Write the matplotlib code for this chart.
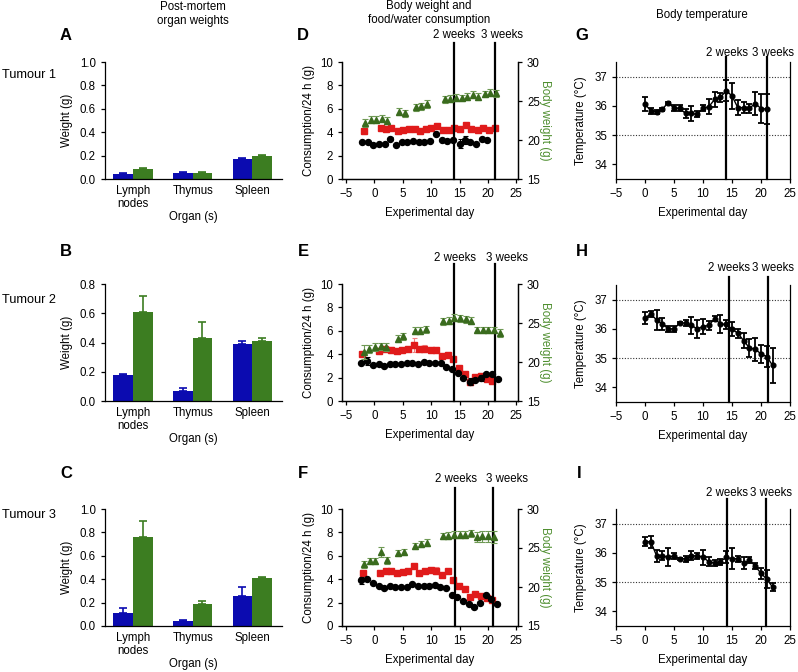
import matplotlib
matplotlib.use("Agg")
import matplotlib.pyplot as plt
import numpy as np

plt.rcParams['font.family'] = ['Liberation Sans', 'DejaVu Sans']
plt.rcParams['font.size'] = 8.3
plt.rcParams['axes.linewidth'] = 0.9
plt.rcParams['xtick.major.width'] = 0.9
plt.rcParams['ytick.major.width'] = 0.9
plt.rcParams['xtick.major.size'] = 3
plt.rcParams['ytick.major.size'] = 3
plt.rcParams['xtick.labelsize'] = 8.3
plt.rcParams['ytick.labelsize'] = 8.3

# ---------------- data ----------------
organs = ["Lymph\nnodes", "Thymus", "Spleen"]

a_blue = [0.045, 0.05, 0.175]
a_blue_err = [0.005, 0.008, 0.004]
a_green = [0.085, 0.052, 0.195]
a_green_err = [0.008, 0.005, 0.01]

b_blue = [0.18, 0.068, 0.39]
b_blue_err = [0.005, 0.02, 0.02]
b_green = [0.61, 0.43, 0.41]
b_green_err = [0.11, 0.11, 0.02]

c_blue = [0.11, 0.04, 0.26]
c_blue_err = [0.04, 0.01, 0.07]
c_green = [0.76, 0.19, 0.41]
c_green_err = [0.135, 0.025, 0.005]

# Panel D
d_food_x = [-2.2, -1.2, -0.2, 0.8, 1.8, 2.8, 3.8, 4.8, 5.8, 6.8, 7.8, 8.8, 9.8, 10.9, 11.9, 12.8, 13.9, 15.0, 16.0, 16.9, 17.9, 18.9, 19.9]
d_food = [3.12, 3.12, 2.87, 3.0, 2.95, 3.45, 2.87, 3.15, 3.15, 3.29, 3.15, 3.2, 3.26, 3.88, 3.31, 3.26, 3.34, 3.03, 3.31, 3.12, 3.0, 3.4, 3.37]
d_food_err = [0.05, 0.05, 0.05, 0.05, 0.05, 0.15, 0.05, 0.05, 0.05, 0.05, 0.05, 0.05, 0.05, 0.08, 0.05, 0.05, 0.08, 0.35, 0.35, 0.05, 0.05, 0.05, 0.05]
d_water_x = [-1.9, 1.1, 2.0, 3.0, 4.1, 5.0, 6.1, 7.1, 8.1, 9.1, 10.0, 11.1, 12.1, 13.1, 14.1, 15.1, 16.1, 17.1, 18.2, 19.2, 20.2, 21.2]
d_water = [4.07, 4.38, 4.24, 4.35, 4.07, 4.21, 4.3, 4.3, 4.13, 4.3, 4.33, 4.52, 4.16, 4.16, 4.38, 4.27, 4.58, 4.24, 4.21, 4.38, 4.16, 4.38]
d_water_err = [0.05] * 22
d_bw_x = [-1.6, -0.6, 0.3, 1.3, 2.3, 4.3, 5.4, 7.4, 8.3, 9.3, 12.4, 13.4, 14.4, 15.4, 16.3, 17.4, 18.3, 19.4, 20.4, 21.4]
d_bw = [22.2, 22.6, 22.6, 22.7, 22.5, 23.6, 23.4, 24.2, 24.3, 24.6, 25.2, 25.3, 25.4, 25.4, 25.55, 25.8, 25.55, 25.9, 26.05, 26.0]
d_bw_err = [0.5, 0.45, 0.45, 0.45, 0.45, 0.45, 0.4, 0.45, 0.45, 0.5, 0.4, 0.45, 0.45, 0.4, 0.45, 0.45, 0.45, 0.4, 0.45, 0.45]

# Panel E
e_food_x = [-2.35, -1.3, -0.3, 0.75, 1.75, 2.7, 3.7, 4.7, 5.7, 6.7, 7.7, 8.7, 9.7, 10.7, 11.7, 12.7, 13.7, 14.7, 15.7, 16.8, 17.7, 18.7, 19.7, 20.7, 21.7]
e_food = [3.23, 3.4, 3.06, 3.14, 3.0, 3.17, 3.17, 3.17, 3.29, 3.23, 3.12, 3.31, 3.29, 3.26, 3.26, 2.89, 2.72, 2.41, 1.98, 1.64, 1.81, 1.93, 2.35, 2.27, 1.87]
e_food_err = [0.08, 0.35, 0.05, 0.05, 0.05, 0.05, 0.05, 0.05, 0.05, 0.05, 0.05, 0.05, 0.05, 0.05, 0.05, 0.05, 0.08, 0.08, 0.08, 0.3, 0.1, 0.25, 0.08, 0.08, 0.08]
e_water_x = [-2.2, 0.9, 1.9, 2.9, 3.9, 4.9, 5.9, 6.9, 7.8, 8.8, 9.9, 10.9, 11.9, 12.9, 13.9, 14.9, 15.9, 16.8, 17.8, 18.8, 19.8, 20.8]
e_water = [4.05, 4.25, 4.42, 4.33, 4.3, 4.33, 4.48, 4.82, 4.48, 4.48, 4.39, 4.39, 3.88, 3.91, 3.6, 2.86, 2.35, 1.64, 2.01, 2.15, 1.87, 1.7]
e_water_err = [0.1, 0.1, 0.1, 0.25, 0.1, 0.1, 0.1, 0.6, 0.1, 0.3, 0.1, 0.1, 0.1, 0.1, 0.1, 0.1, 0.1, 0.3, 0.15, 0.15, 0.1, 0.1]
e_bw_x = [-1.9, -0.9, 0.2, 1.2, 2.1, 4.1, 5.1, 7.1, 8.1, 9.1, 12.1, 13.1, 14.1, 15.1, 16.1, 17.1, 18.1, 19.1, 20.1, 21.1, 22.1]
e_bw = [21.3, 21.7, 21.9, 22.0, 21.9, 23.0, 23.3, 24.0, 24.0, 24.2, 25.2, 25.3, 25.7, 25.6, 25.5, 25.3, 24.1, 24.1, 24.1, 24.1, 23.7]
e_bw_err = [0.9, 0.5, 0.5, 0.5, 0.5, 0.45, 0.45, 0.45, 0.45, 0.45, 0.45, 0.45, 0.45, 0.45, 0.45, 0.45, 0.4, 0.4, 0.4, 0.4, 0.5]

# Panel F
f_food_x = [-2.3, -1.3, -0.3, 0.75, 1.75, 2.75, 3.7, 4.7, 5.7, 6.7, 7.7, 8.7, 9.7, 10.6, 11.6, 12.6, 13.6, 14.6, 15.6, 16.6, 17.6, 18.6, 19.6, 20.6, 21.6]
f_food = [3.89, 4.03, 3.66, 3.43, 3.26, 3.43, 3.37, 3.34, 3.37, 3.57, 3.46, 3.43, 3.43, 3.51, 3.37, 3.23, 2.66, 2.49, 2.17, 1.86, 1.63, 1.94, 2.63, 2.34, 1.91]
f_food_err = [0.3, 0.1, 0.05, 0.05, 0.08, 0.05, 0.05, 0.05, 0.05, 0.05, 0.05, 0.05, 0.05, 0.05, 0.05, 0.05, 0.05, 0.05, 0.05, 0.05, 0.08, 0.05, 0.05, 0.05, 0.05]
f_water_x = [-2.05, 1.0, 2.0, 3.0, 4.0, 5.0, 6.0, 7.0, 7.9, 8.9, 9.9, 10.9, 11.9, 12.9, 13.9, 14.9, 15.9, 16.8, 17.8, 18.8, 19.8, 20.8]
f_water = [4.51, 4.54, 4.66, 4.66, 4.57, 4.63, 4.74, 5.09, 4.54, 4.71, 4.77, 4.74, 4.4, 4.71, 3.91, 3.43, 3.14, 2.51, 2.71, 2.57, 2.43, 2.2]
f_water_err = [0.1, 0.1, 0.1, 0.1, 0.1, 0.1, 0.1, 0.1, 0.1, 0.1, 0.15, 0.3, 0.1, 0.1, 0.1, 0.1, 0.1, 0.1, 0.1, 0.1, 0.1, 0.1]
f_bw_x = [-1.8, -0.8, 0.2, 1.2, 2.2, 4.2, 5.2, 7.2, 8.2, 9.2, 12.1, 13.0, 14.1, 15.0, 16.0, 17.0, 18.0, 19.0, 20.0, 21.0]
f_bw = [22.9, 23.3, 23.3, 24.5, 23.4, 24.4, 24.5, 25.3, 25.5, 25.7, 26.5, 26.6, 26.7, 26.7, 26.7, 26.9, 26.4, 26.5, 26.5, 26.4]
f_bw_err = [0.4, 0.4, 0.4, 0.6, 0.4, 0.4, 0.4, 0.4, 0.4, 0.4, 0.4, 0.4, 0.45, 0.45, 0.45, 0.45, 0.6, 0.7, 0.7, 0.8]

# Temperature panels
g_days = [0, 1, 2, 3, 4, 5, 6, 7, 8, 9, 10, 11, 12, 13, 14, 15, 16, 17, 18, 19, 20, 21]
g_temp = [36.06, 35.83, 35.79, 35.89, 36.11, 35.92, 35.92, 35.74, 35.74, 35.71, 35.92, 35.97, 36.22, 36.29, 36.52, 36.34, 35.94, 35.94, 35.92, 36.08, 35.91, 35.89]
g_err = [0.25, 0.1, 0.08, 0.05, 0.03, 0.1, 0.1, 0.15, 0.25, 0.1, 0.1, 0.25, 0.25, 0.15, 0.35, 0.45, 0.25, 0.2, 0.15, 0.4, 0.5, 0.5]

h_days = [0, 1, 2, 3, 4, 5, 6, 7, 8, 9, 10, 11, 12, 13, 14, 15, 16, 17, 18, 19, 20, 21, 22]
h_temp = [36.37, 36.52, 36.3, 36.17, 36.0, 36.0, 36.2, 36.2, 36.12, 36.0, 36.08, 36.12, 36.35, 36.17, 36.15, 36.0, 35.85, 35.6, 35.35, 35.3, 35.15, 35.05, 34.75]
h_err = [0.2, 0.1, 0.35, 0.2, 0.1, 0.1, 0.03, 0.1, 0.3, 0.3, 0.25, 0.15, 0.08, 0.3, 0.15, 0.25, 0.15, 0.25, 0.3, 0.4, 0.3, 0.35, 0.6]

i_days = [0, 1, 2, 3, 4, 5, 6, 7, 8, 9, 10, 11, 12, 13, 14, 15, 16, 17, 18, 19, 20, 21, 22]
i_temp = [36.38, 36.38, 35.9, 35.9, 35.85, 35.9, 35.8, 35.8, 35.9, 35.9, 35.85, 35.7, 35.65, 35.7, 35.85, 35.8, 35.8, 35.65, 35.75, 35.55, 35.3, 35.1, 34.83]
i_err = [0.15, 0.2, 0.2, 0.15, 0.3, 0.1, 0.03, 0.1, 0.15, 0.1, 0.25, 0.15, 0.1, 0.1, 0.2, 0.35, 0.1, 0.2, 0.1, 0.1, 0.2, 0.3, 0.15]

week_lines = {"D": (14.1, 21.2), "E": (14.0, 21.3), "F": (14.2, 20.9),
              "G": (14.0, 21.1), "H": (14.5, 21.2), "I": (14.1, 20.9)}

# ---------------- styling ----------------
BLUE = "#0b0bb0"
GREEN_BAR = "#3c7d21"
RED = "#e01b1b"
TRI = "#3a6b1e"
BW_LABEL = "#4f8f30"

W, H = 798, 672
fig = plt.figure(figsize=(W / 100, H / 100), dpi=100)


def add_ax(l, t, r, b):
    return fig.add_axes([l / W, 1 - b / H, (r - l) / W, (b - t) / H])


def fig_text(x, y, s, **kw):
    fig.text(x / W, 1 - y / H, s, **kw)


def bar_panel(top, blue, blue_err, green, green_err, ymax):
    ax = add_ax(105, top, 282, top + 117)
    x = np.arange(len(organs))
    w = 0.33
    ax.bar(x - w / 2, blue, w, color=BLUE, yerr=[[0] * 3, blue_err],
           error_kw=dict(ecolor=BLUE, capsize=3, elinewidth=1.2, capthick=1.2))
    ax.bar(x + w / 2, green, w, color=GREEN_BAR, yerr=[[0] * 3, green_err],
           error_kw=dict(ecolor=GREEN_BAR, capsize=3, elinewidth=1.2, capthick=1.2))
    ax.set_xlim(-0.47, 2.5)
    ax.set_ylim(0, ymax)
    ticks = np.arange(0, ymax + 0.01, 0.2)
    ax.set_yticks(ticks)
    ax.set_yticklabels([f"{v:.1f}" for v in ticks])
    ax.set_xticks(x)
    ax.set_xticklabels(organs, linespacing=1.15)
    ax.tick_params(axis='x', length=0, pad=4)
    ax.spines['top'].set_visible(False)
    ax.spines['right'].set_visible(False)
    ax.set_ylabel("Weight (g)", labelpad=5)
    ax.set_xlabel("Organ (s)", labelpad=1)
    return ax


def week_marks(ax, key, line_top, text_y, txt_x):
    a, b = week_lines[key]
    for d in (a, b):
        ax.axvline(d, ymin=0, ymax=line_top, color='black', lw=1.6, clip_on=False, zorder=5)
    ax.text(txt_x[0], text_y, "2 weeks", transform=ax.get_xaxis_transform(),
            ha='center', va='center', clip_on=False)
    ax.text(txt_x[1], text_y, "3 weeks", transform=ax.get_xaxis_transform(),
            ha='center', va='center', clip_on=False)


def cons_panel(top, key, food_x, food, food_err, water_x, water, water_err,
               bw_x, bw, bw_err, line_top, text_y, txt_x):
    ax = add_ax(342, top, 518, top + 117)
    ax.errorbar(food_x, food, yerr=food_err, fmt='o', color='black', ms=4.3,
                capsize=1.8, elinewidth=0.8, capthick=0.8, zorder=3)
    ax.errorbar(water_x, water, yerr=water_err, fmt='s', color=RED, ms=4.6,
                ecolor="#f08080", capsize=1.8, elinewidth=0.8, capthick=0.8, zorder=2)
    ax.set_xlim(-5.7, 25.3)
    ax.set_ylim(0, 10)
    ax.set_xticks([-5, 0, 5, 10, 15, 20, 25])
    ax.set_xticklabels(["\u22125", "0", "5", "10", "15", "20", "25"])
    ax.set_yticks([0, 2, 4, 6, 8, 10])
    ax.spines['top'].set_visible(False)
    ax.set_ylabel("Consumption/24 h (g)", labelpad=4)
    ax.set_xlabel("Experimental day", labelpad=5)
    ax2 = ax.twinx()
    ax2.errorbar(bw_x, bw, yerr=bw_err, fmt='^', color=TRI, ms=5,
                 ecolor="#6f9a55", capsize=2, elinewidth=0.8, capthick=0.8, zorder=3)
    ax2.set_ylim(15, 30)
    ax2.set_yticks([15, 20, 25, 30])
    ax2.spines['top'].set_visible(False)
    ax2.set_ylabel("Body weight (g)", color=BW_LABEL, rotation=270, labelpad=8)
    week_marks(ax, key, line_top, text_y, txt_x)
    return ax


def temp_panel(top, key, days, temp, err, line_top, text_y, txt_x):
    ax = add_ax(616, top, 790, top + 117)
    ax.axhline(35, color='#333333', lw=0.8, ls=(0, (1, 1.5)))
    ax.axhline(37, color='#333333', lw=0.8, ls=(0, (1, 1.5)))
    ax.errorbar(days, temp, yerr=err, fmt='-o', color='black', ms=3.4, lw=1.0,
                capsize=2.4, elinewidth=1.3, capthick=1.3, zorder=3)
    ax.set_xlim(-5, 25)
    ax.set_ylim(33.5, 37.5)
    ax.set_xticks([-5, 0, 5, 10, 15, 20, 25])
    ax.set_xticklabels(["\u22125", "0", "5", "10", "15", "20", "25"])
    ax.set_yticks([34, 35, 36, 37])
    ax.spines['top'].set_visible(False)
    ax.tick_params(axis='y', right=False)
    ax.set_ylabel("Temperature (\u00b0C)", labelpad=5)
    ax.set_xlabel("Experimental day", labelpad=5)
    week_marks(ax, key, line_top, text_y, txt_x)
    return ax


bar_panel(62, a_blue, a_blue_err, a_green, a_green_err, 1.0)
bar_panel(284, b_blue, b_blue_err, b_green, b_green_err, 0.8)
bar_panel(509, c_blue, c_blue_err, c_green, c_green_err, 1.0)

cons_panel(62, "D", d_food_x, d_food, d_food_err, d_water_x, d_water, d_water_err,
           d_bw_x, d_bw, d_bw_err, 1.16, 1.23, (14.1, 22.4))
cons_panel(284, "E", e_food_x, e_food, e_food_err, e_water_x, e_water, e_water_err,
           e_bw_x, e_bw, e_bw_err, 1.17, 1.22, (14.2, 23.3))
cons_panel(509, "F", f_food_x, f_food, f_food_err, f_water_x, f_water, f_water_err,
           f_bw_x, f_bw, f_bw_err, 1.18, 1.26, (14.35, 23.4))

temp_panel(62, "G", g_days, g_temp, g_err, 1.04, 1.08, (14.1, 22.0))
temp_panel(285, "H", h_days, h_temp, h_err, 1.07, 1.145, (14.4, 22.0))
temp_panel(509, "I", i_days, i_temp, i_err, 1.085, 1.14, (14.1, 21.7))

# column titles
fig_text(193, 14, "Post-mortem\norgan weights", ha='center', va='center', linespacing=1.15)
fig_text(429, 13, "Body weight and\nfood/water consumption", ha='center', va='center', linespacing=1.15)
fig_text(702, 15, "Body temperature", ha='center', va='center')

# row labels
fig_text(2, 75, "Tumour 1", ha='left', va='center', fontsize=9.2)
fig_text(2, 300, "Tumour 2", ha='left', va='center', fontsize=9.2)
fig_text(2, 515, "Tumour 3", ha='left', va='center', fontsize=9.2)

# panel letters
for letter, x, y in [("A", 60, 36), ("B", 60, 252), ("C", 60, 473),
                     ("D", 297, 35), ("E", 298, 252), ("F", 298, 473),
                     ("G", 575, 35), ("H", 576, 252), ("I", 577, 473)]:
    fig_text(x, y, letter, ha='left', va='center', fontsize=12, fontweight='bold')

fig.savefig("out.png", dpi=100)
